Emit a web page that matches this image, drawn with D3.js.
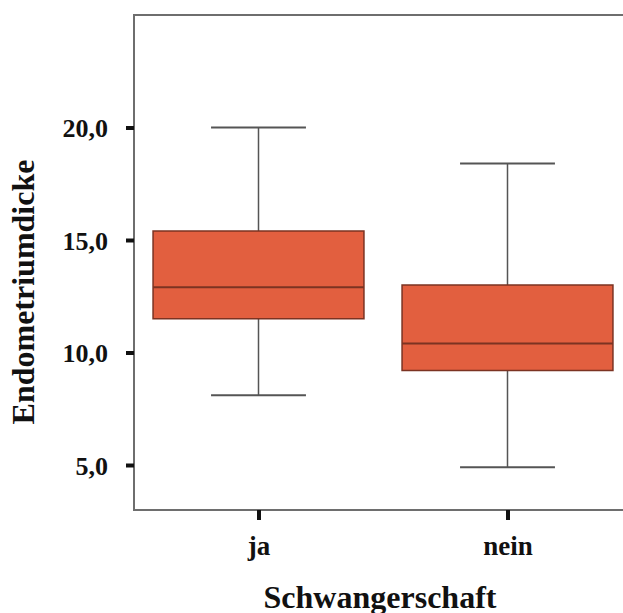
<!DOCTYPE html>
<html>
<head>
<meta charset="utf-8">
<script src="https://cdn.jsdelivr.net/npm/d3@7"></script>
<style>
  body { margin: 0; background: #fff; }
  text { font-family: "Liberation Serif", "Times New Roman", serif; font-weight: bold; fill: #111; }
</style>
</head>
<body>
<script>
var Width = 623;
var Height = 613;

// data
var groups = ["ja", "nein"];
var whiskerLow = [8.1, 4.9];
var q1 = [11.5, 9.2];
var median = [12.9, 10.4];
var q3 = [15.4, 13.0];
var whiskerHigh = [20.0, 18.4];
var yTicks = [5, 10, 15, 20];

var boxes = groups.map(function (g, i) {
	return { name: g, lo: whiskerLow[i], q1: q1[i], med: median[i], q3: q3[i], hi: whiskerHigh[i] };
});

var plotLeft = 134, plotTop = 15, plotRight = 632, plotBottom = 510;

var svg = d3.select("body").append("svg")
	.attr("width", Width)
	.attr("height", Height);

var x = d3.scalePoint()
	.domain(groups)
	.range([plotLeft, plotRight])
	.padding(0.5);

var y = d3.scaleLinear()
	.domain([3, 25])
	.range([plotBottom, plotTop]);

var boxW = x.step() * 0.847;
var capW = boxW * 0.45;

// frame
svg.append("rect")
	.attr("x", plotLeft)
	.attr("y", plotTop)
	.attr("width", plotRight - plotLeft)
	.attr("height", plotBottom - plotTop)
	.attr("fill", "none")
	.attr("stroke", "#6e6e6e")
	.attr("stroke-width", 2);

var g = svg.selectAll(".box")
	.data(boxes)
	.enter()
	.append("g")
	.attr("class", "box");

// whisker stems
g.append("line")
	.attr("x1", function (d) { return x(d.name); })
	.attr("x2", function (d) { return x(d.name); })
	.attr("y1", function (d) { return y(d.lo); })
	.attr("y2", function (d) { return y(d.hi); })
	.attr("stroke", "#555")
	.attr("stroke-width", 1.5);

// caps
g.selectAll(".cap")
	.data(function (d) { return [{ name: d.name, v: d.lo }, { name: d.name, v: d.hi }]; })
	.enter()
	.append("line")
	.attr("x1", function (d) { return x(d.name) - capW / 2; })
	.attr("x2", function (d) { return x(d.name) + capW / 2; })
	.attr("y1", function (d) { return y(d.v); })
	.attr("y2", function (d) { return y(d.v); })
	.attr("stroke", "#555")
	.attr("stroke-width", 2);

g.append("rect")
	.attr("x", function (d) { return x(d.name) - boxW / 2; })
	.attr("width", boxW)
	.attr("y", function (d) { return y(d.q3); })
	.attr("height", function (d) { return y(d.q1) - y(d.q3); })
	.attr("fill", "#e25f3f")
	.attr("stroke", "#7b3322")
	.attr("stroke-width", 1.5);

g.append("line")
	.attr("x1", function (d) { return x(d.name) - boxW / 2; })
	.attr("x2", function (d) { return x(d.name) + boxW / 2; })
	.attr("y1", function (d) { return y(d.med); })
	.attr("y2", function (d) { return y(d.med); })
	.attr("stroke", "#7b3322")
	.attr("stroke-width", 2);

// y axis
var yAxis = d3.axisLeft(y)
	.tickValues(yTicks)
	.tickSize(8)
	.tickPadding(18)
	.tickFormat(function (d) { return d3.format(".1f")(d).replace(".", ","); });

var ya = svg.append("g")
	.attr("transform", "translate(" + plotLeft + ",0)")
	.call(yAxis);
ya.select(".domain").remove();
ya.selectAll(".tick line").attr("stroke", "#111").attr("stroke-width", 4);
ya.selectAll(".tick text").style("font-size", "26px").attr("dy", "0.35em").attr("fill", "#111");

// x axis
var xAxis = d3.axisBottom(x)
	.tickSize(10)
	.tickPadding(16);

var xa = svg.append("g")
	.attr("transform", "translate(0," + plotBottom + ")")
	.call(xAxis);
xa.select(".domain").remove();
xa.selectAll(".tick line").attr("stroke", "#111").attr("stroke-width", 4);
xa.selectAll(".tick text").style("font-size", "27px").attr("fill", "#111");

// titles
svg.append("text")
	.attr("transform", "translate(34,292) rotate(-90)")
	.attr("text-anchor", "middle")
	.style("font-size", "32px")
	.text("Endometriumdicke");

svg.append("text")
	.attr("x", 380)
	.attr("y", 608)
	.attr("text-anchor", "middle")
	.style("font-size", "32px")
	.text("Schwangerschaft");
</script>
</body>
</html>
